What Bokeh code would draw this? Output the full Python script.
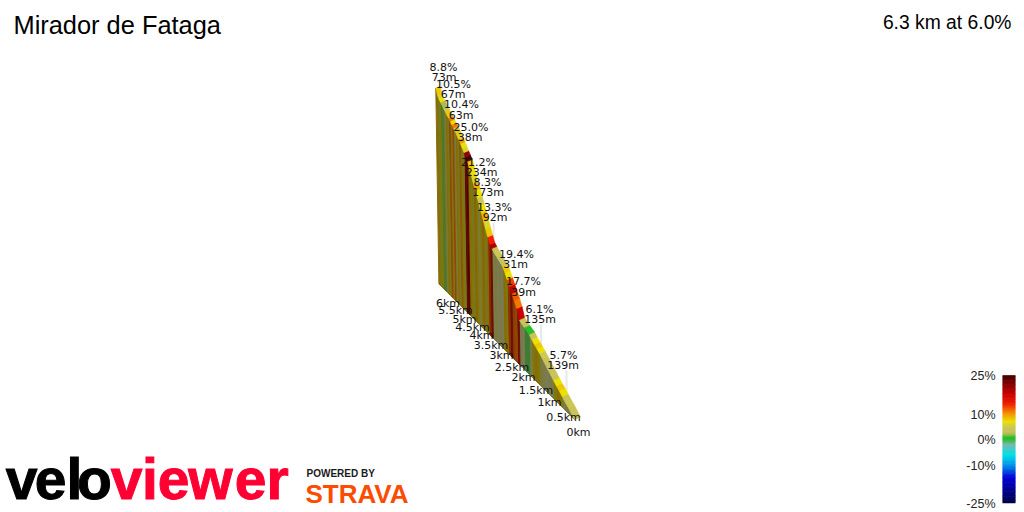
from bokeh.plotting import figure
from bokeh.embed import file_html
from bokeh.resources import INLINE
from bokeh.core.properties import value
import numpy as np

title = "Mirador de Fataga"
summary = "6.3 km at 6.0%"

# distance from the foot of the climb, km (every 0.1 km)
distance_km = [i / 10 for i in range(64)]
elevation_m = [0, 4, 8, 11, 15, 19, 22, 26, 30, 34, 38, 42, 46, 49, 52, 56, 60, 62, 64, 66,
               69, 83, 92, 100, 108, 116, 124, 131, 134, 137, 140, 143, 147, 151, 161, 172,
               183, 194, 204, 215, 226, 236, 247, 258, 269, 275, 281, 288, 294, 300, 306,
               311, 316, 321, 326, 331, 335, 340, 344, 349, 354, 359, 366, 378]
grade_pct = [4, 4, 5, 4, 7, 8, 7, 4, 4, 3,
             4, 5, 7, 8, 7, 4, 1, 1, 3, 4,
             18, 11, 12, 18, 13, 7, 8, 3, 4, 3,
             5, 4, 19, 14, 8, 6, 9, 7, 5, 7,
             9, 6, 7, 8, 25, 21, 6, 7, 10, 6,
             8, 5, 11, 7, 11, 6, 8, 5, 2, 2,
             7, 6, 8]

peak_pct = ["8.8%", "10.5%", "10.4%", "25.0%", "21.2%", "8.3%", "13.3%", "19.4%", "17.7%", "6.1%", "5.7%"]
peak_len = ["73m", "67m", "63m", "38m", "234m", "173m", "92m", "31m", "39m", "135m", "139m"]
km_ticks = ["6km", "5.5km", "5km", "4.5km", "4km", "3.5km", "3km", "2.5km", "2km", "1.5km", "1km", "0.5km", "0km"]
scale_pct = [25, 10, 0, -10, -25]

# ---- layout, in picture pixels
peak_x = [443, 453, 461, 470.5, 478, 487, 494, 516, 523, 539, 563]
peak_y1 = [67, 84, 104, 127, 162, 182, 207, 254, 281, 309, 355]
peak_y2 = [77, 94, 115, 137, 172, 192, 217, 264, 292, 319, 365]
peak_len_x = [443.5, 452.5, 460.5, 469.5, 481, 487.5, 494.5, 515, 523, 539.5, 562.5]
peak_d = [6.2, 5.9, 5.6, 5.2, 4.45, 3.95, 3.35, 3.0, 2.3, 1.35, 0.45]
km_x = [447.5, 455, 464, 472, 481, 490.5, 501, 511.5, 523, 535.5, 549, 563, 578]
km_y = [303, 310, 319, 327, 335, 345, 355, 367, 377, 390, 402, 417, 432]

D = 14.1
A = 439.0
XV, YV = 135.0, -20.0
K = 0.75
ROAD = (6.0, -2.5)


def project(d, h):
    s = 1.0 / (1.0 + np.asarray(d, float) / D)
    return XV + A * s - 0.012 * np.asarray(h, float) * s, YV + A * s - K * np.asarray(h, float) * s


def base(d):
    s = 1.0 / (1.0 + np.asarray(d, float) / D)
    return XV + A * s, YV + A * s


def road(d, x, y):
    s = 1.0 / (1.0 + np.asarray(d, float) / D)
    return x + ROAD[0] * s, y + ROAD[1] * s


def mix(anchors, g):
    keys = [a[0] for a in anchors]
    rgb = [int(round(np.interp(g, keys, [a[1][k] for a in anchors]))) for k in range(3)]
    return "#%02x%02x%02x" % tuple(rgb)


road_palette = [(-25, (0, 0, 70)), (-15, (0, 0, 215)), (-10, (0, 150, 235)), (-6, (0, 225, 230)),
                (-2, (120, 185, 175)), (0, (40, 190, 40)), (1, (40, 190, 40)), (2, (170, 190, 80)),
                (3, (198, 192, 96)), (5, (205, 200, 80)), (7, (235, 225, 0)), (10, (245, 150, 0)),
                (14, (238, 30, 0)), (18, (200, 0, 0)), (25, (70, 0, 0))]
wall_palette = [(0, (50, 125, 45)), (1, (60, 125, 50)), (2, (80, 120, 40)), (3, (122, 122, 85)),
                (5, (122, 122, 60)), (6, (118, 120, 30)), (7, (128, 118, 10)), (8, (135, 108, 5)),
                (9, (140, 98, 5)), (11, (145, 70, 5)), (14, (135, 40, 5)), (18, (110, 15, 3)),
                (25, (85, 3, 0))]

p = figure(width=1024, height=512, x_range=(0, 1024), y_range=(512, 0),
           output_backend="svg", toolbar_location=None, min_border=0,
           background_fill_color="white", border_fill_color="white", outline_line_color=None)
p.axis.visible = False
p.grid.visible = False
p.styles = {"position": "absolute", "left": "0", "top": "0"}

d = np.array(distance_km)
h = np.array(elevation_m, float)
bx, by = base(d)
tx, ty = project(d, h)
rx, ry = road(d, tx, ty)

# leader lines
for dp, y2 in zip(peak_d, peak_y2):
    lx, ly = project(dp, np.interp(dp, d, h))
    lx2, ly2 = road(dp, lx, ly)
    p.line([lx2, lx2], [y2 + 5, ly2 + 4], line_color="#e8e8e8", line_width=2)

wall_xs, wall_ys, wall_cs, road_xs, road_ys, road_cs = [], [], [], [], [], []
for i, g in enumerate(grade_pct):
    wall_xs.append([bx[i], bx[i + 1], tx[i + 1], tx[i]])
    wall_ys.append([by[i], by[i + 1], ty[i + 1], ty[i]])
    wall_cs.append(mix(wall_palette, g))
    road_xs.append([tx[i], tx[i + 1], rx[i + 1], rx[i]])
    road_ys.append([ty[i], ty[i + 1], ry[i + 1], ry[i]])
    road_cs.append(mix(road_palette, g))
p.patches(wall_xs, wall_ys, fill_color=wall_cs, line_color=wall_cs, line_width=1, fill_alpha=1, line_alpha=1)
p.patches(road_xs, road_ys, fill_color=road_cs, line_color=road_cs, line_width=0.7, fill_alpha=1, line_alpha=1)

LABEL = value("DejaVu Sans")
p.text(peak_x, peak_y1, text=peak_pct, text_font=LABEL, text_font_size="11px", text_color="#111111",
       text_align="center", text_baseline="middle")
p.text(peak_len_x, peak_y2, text=peak_len, text_font=LABEL, text_font_size="11px", text_color="#111111",
       text_align="center", text_baseline="middle")
p.text(km_x, km_y, text=km_ticks, text_font=LABEL, text_font_size="11px", text_color="#111111",
       text_align="center", text_baseline="middle")

SANS = value("Liberation Sans")
p.text([13], [24], text=[title], text_font=SANS, text_font_size="25.4px", text_color="#000000",
       text_align="left", text_baseline="middle")
p.text([1011], [22], text=[summary], text_font=SANS, text_font_size="19.3px", text_color="#000000",
       text_align="right", text_baseline="middle")

# gradient scale
bar_g = np.arange(-25, 25, 0.5)
bar_y = lambda g: 439.0 - 2.55 * np.asarray(g, float)
bar_c = [mix(road_palette, g + 0.25) for g in bar_g]
p.quad(left=1002, right=1015, bottom=bar_y(bar_g), top=bar_y(bar_g + 0.5) - 0.6,
       fill_color=bar_c, line_color=None)
p.text([995] * len(scale_pct), [375, 414, 439, 465, 503], text=["%d%%" % s for s in scale_pct],
       text_font=SANS, text_font_size="12.5px", text_color="#222222",
       text_align="right", text_baseline="middle")

# wordmarks
velo_letters = list("velo")
viewer_letters = list("viewer")
velo_x = [21, 50, 74, 94]
viewer_x = [126, 149.5, 173, 210, 250, 277]
p.text(velo_x, [478.5] * 4, text=velo_letters, text_font=SANS, text_font_style="bold", text_font_size="57px",
       text_color="#000000", text_outline_color="#000000", text_align="center", text_baseline="middle")
p.text(viewer_x, [478.5] * 6, text=viewer_letters, text_font=SANS, text_font_style="bold", text_font_size="57px",
       text_color="#ff0033", text_outline_color="#ff0033", text_align="center", text_baseline="middle")
p.text([306], [473], text=["POWERED BY"], text_font=SANS, text_font_style="bold", text_font_size="10px",
       text_color="#1a1a1a", text_align="left", text_baseline="middle")
p.text([305], [493], text=["STRAVA"], text_font=SANS, text_font_style="bold", text_font_size="26px",
       text_color="#fc4c02", text_align="left", text_baseline="middle")

open("out.html", "w").write(file_html(p, INLINE))
